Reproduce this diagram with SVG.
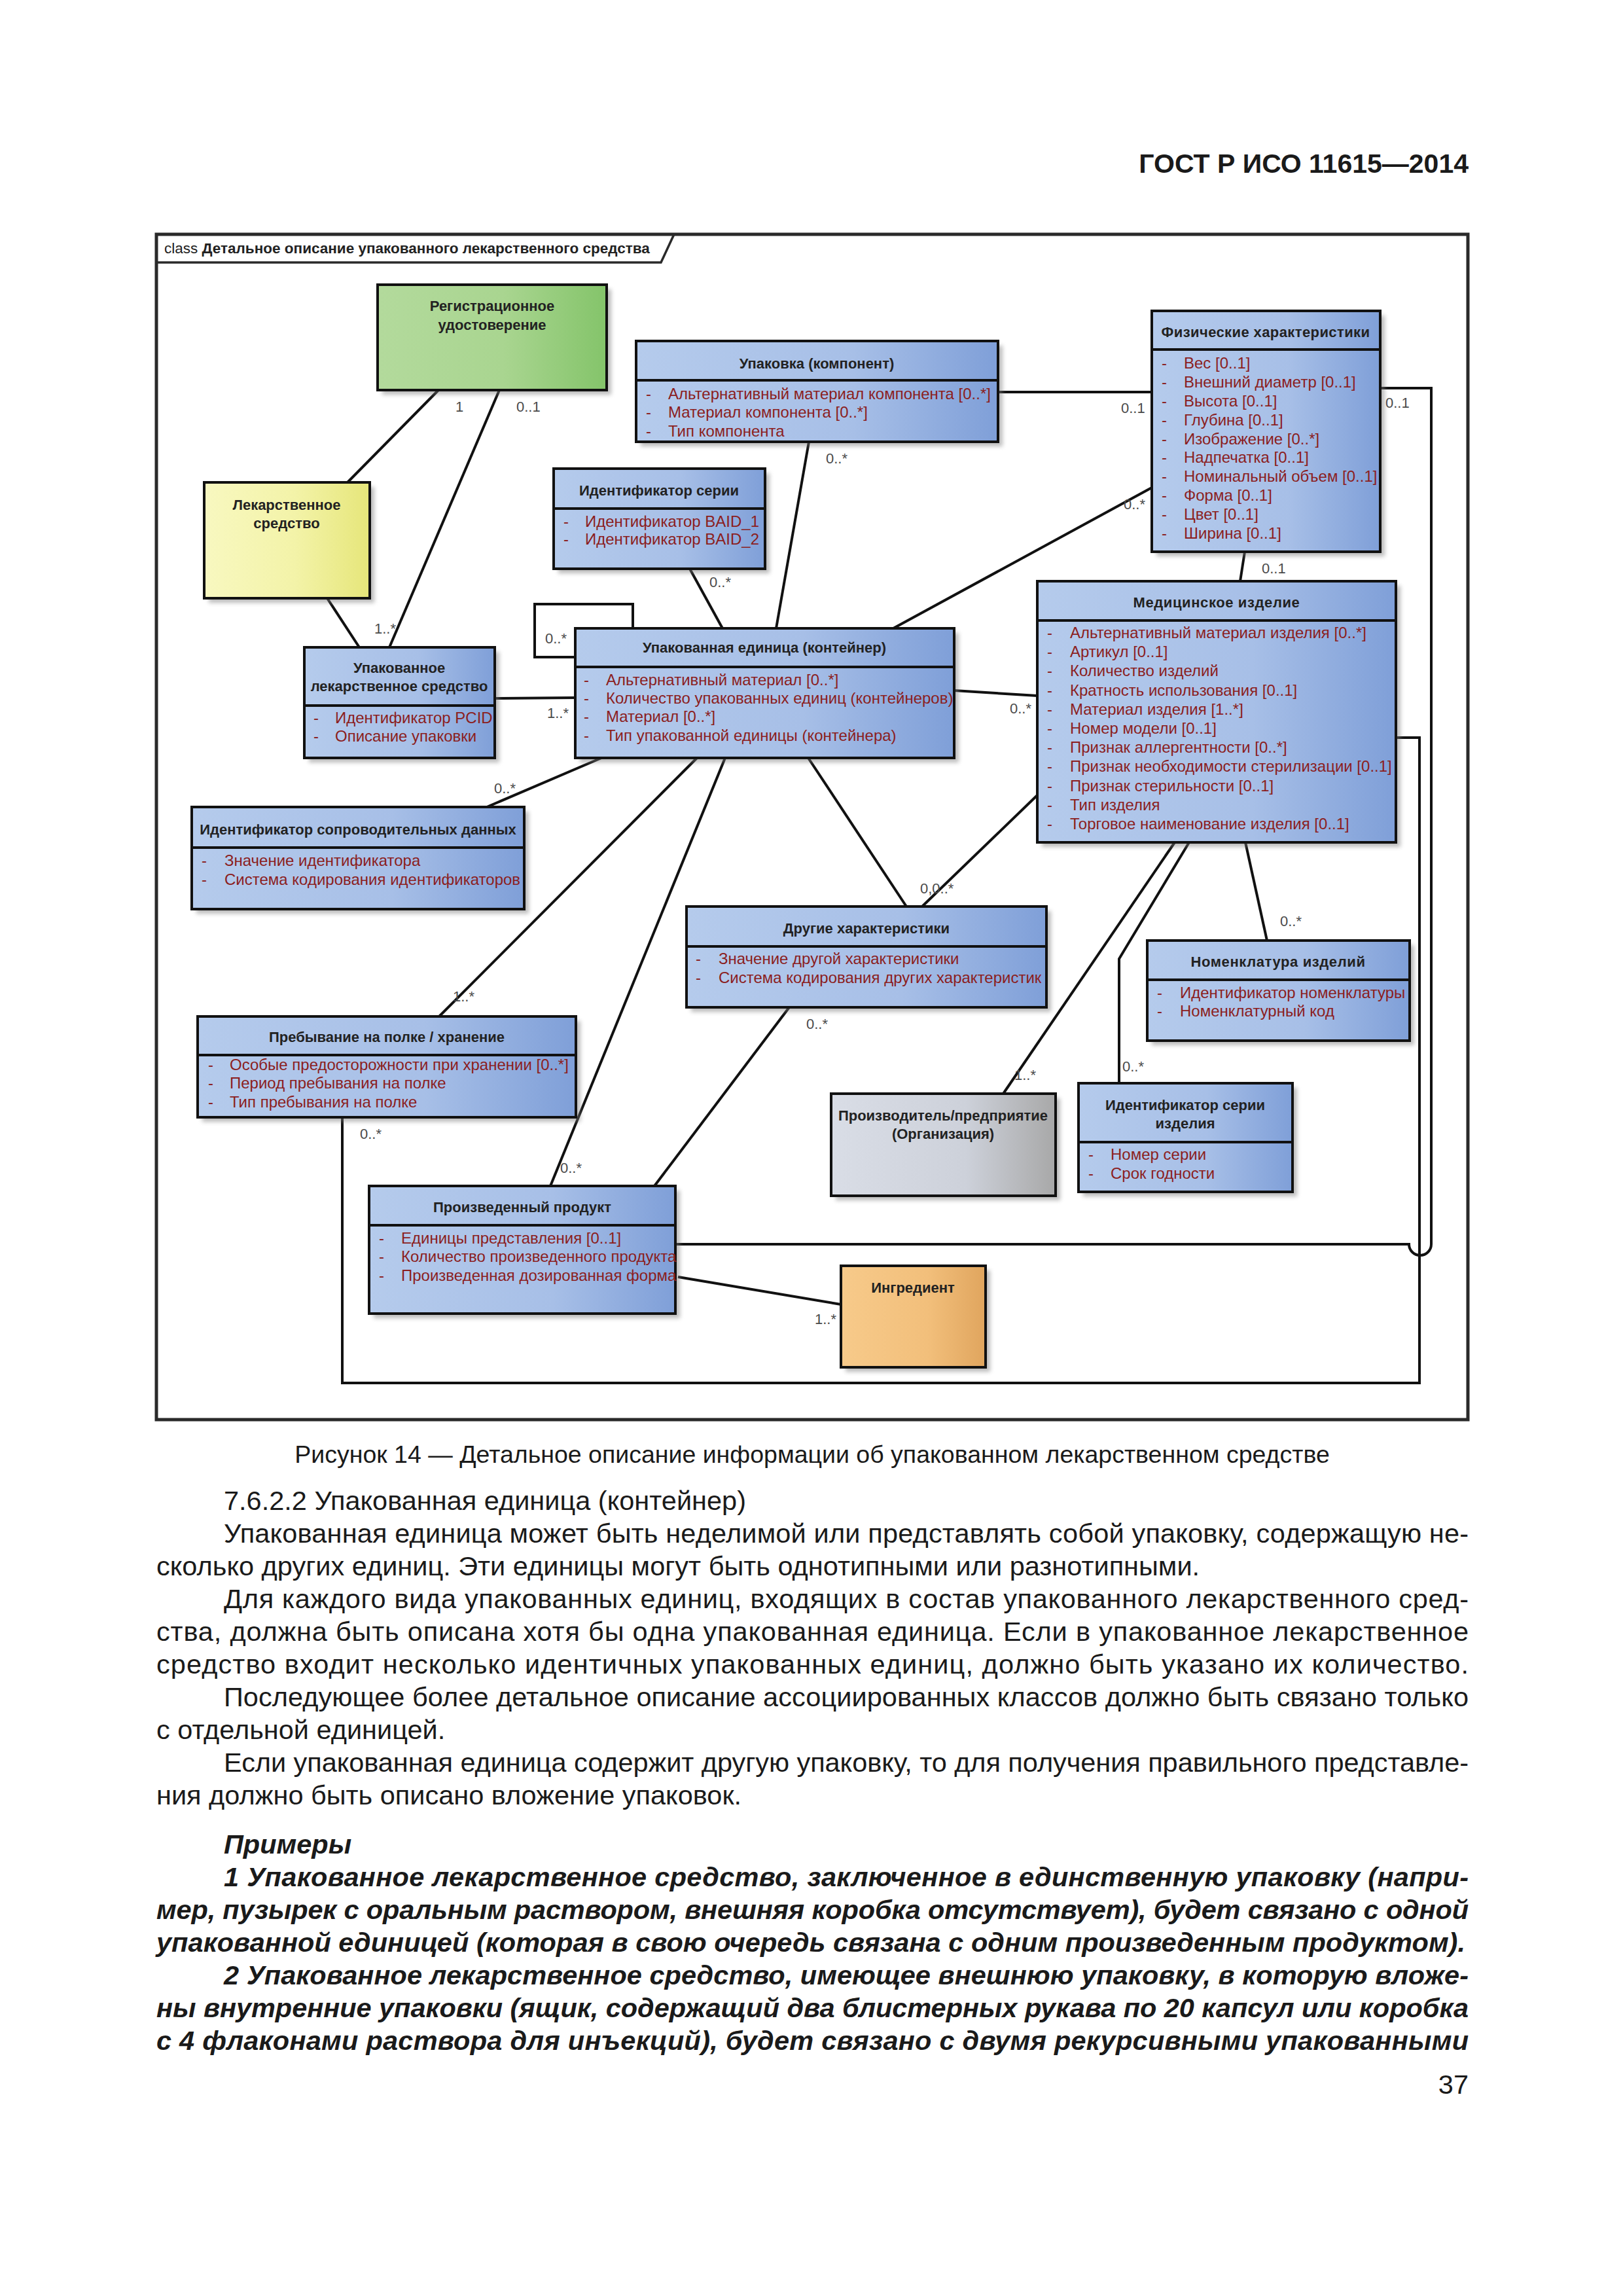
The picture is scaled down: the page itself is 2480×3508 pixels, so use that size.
<svg xmlns="http://www.w3.org/2000/svg" width="2480" height="3508" viewBox="0 0 2480 3508">
<defs>
<linearGradient id="gBlue" x1="0" y1="0" x2="1" y2="0">
<stop offset="0" stop-color="#b5cbec"/><stop offset="0.6" stop-color="#a7bfe7"/><stop offset="1" stop-color="#7f9fd8"/>
</linearGradient>
<linearGradient id="gGreen" x1="0" y1="0" x2="1" y2="0">
<stop offset="0" stop-color="#b3da9c"/><stop offset="0.55" stop-color="#a9d590"/><stop offset="1" stop-color="#84c46a"/>
</linearGradient>
<linearGradient id="gYellow" x1="0" y1="0" x2="1" y2="0">
<stop offset="0" stop-color="#f8f8c0"/><stop offset="0.55" stop-color="#f3f3a8"/><stop offset="1" stop-color="#e6e67a"/>
</linearGradient>
<linearGradient id="gGray" x1="0" y1="0" x2="1" y2="0">
<stop offset="0" stop-color="#d9dde6"/><stop offset="0.6" stop-color="#cdd1da"/><stop offset="1" stop-color="#a8a8a8"/>
</linearGradient>
<linearGradient id="gOrange" x1="0" y1="0" x2="1" y2="0">
<stop offset="0" stop-color="#f7ca8a"/><stop offset="0.6" stop-color="#f2bf7b"/><stop offset="1" stop-color="#e0a55e"/>
</linearGradient>
<filter id="blur" x="-10%" y="-10%" width="120%" height="120%"><feGaussianBlur stdDeviation="3"/></filter>
<style>
.box{stroke:#111;stroke-width:4}
.blue{fill:url(#gBlue)}
.green{fill:url(#gGreen)}
.yellow{fill:url(#gYellow)}
.gray{fill:url(#gGray)}
.orange{fill:url(#gOrange)}
.sh{fill:#7a7a7a;opacity:.5;filter:url(#blur)}
.div{stroke:#111;stroke-width:4}
.t{font-family:"Liberation Sans",Arial,sans-serif;font-size:22px;font-weight:bold;fill:#222;text-anchor:middle}
.a{font-family:"Liberation Sans",Arial,sans-serif;font-size:24px;fill:#8b1e1e}
.m{font-family:"Liberation Sans",Arial,sans-serif;font-size:22px;fill:#4a4a4a}
.c{fill:none;stroke:#111;stroke-width:4}
.frame{fill:none;stroke:#2a2a2a;stroke-width:5}
.tag{font-family:"Liberation Sans",Arial,sans-serif;font-size:22.5px;font-weight:bold;fill:#222}
.body{font-family:"Liberation Sans",Arial,sans-serif;font-size:41.5px;fill:#1a1a1a}
.bi{font-weight:bold;font-style:italic}
.cap{font-family:"Liberation Sans",Arial,sans-serif;font-size:37.5px;fill:#1a1a1a;text-anchor:middle}
.hdr{font-family:"Liberation Sans",Arial,sans-serif;font-size:41px;font-weight:bold;fill:#1a1a1a;text-anchor:end}
</style>
</defs>
<rect x="0" y="0" width="2480" height="3508" fill="#ffffff"/>

<text class="hdr" x="2244" y="264">ГОСТ Р ИСО 11615—2014</text>

<g id="frame">
<rect class="frame" x="239" y="358" width="2004" height="1811"/>
<path d="M239,401 H1010 L1030,358" fill="none" stroke="#2a2a2a" stroke-width="3.5"/>
<text class="tag" x="251" y="387"><tspan font-weight="normal">class</tspan> Детальное описание упакованного лекарственного средства</text>
</g>

<g id="connectors">
<path class="c" d="M670,596 L531,737"/>
<path class="c" d="M763,596 L595,989"/>
<path class="c" d="M500,914 L549,989"/>
<path class="c" d="M756,1067 L879,1066"/>
<path class="c" d="M967,960 V923 H817 V1004 H879"/>
<path class="c" d="M1054,869 L1104,960"/>
<path class="c" d="M1236,675 L1186,960"/>
<path class="c" d="M1525,599 H1760"/>
<path class="c" d="M1760,745 L1365,960"/>
<path class="c" d="M1902,843 L1895,888"/>
<path class="c" d="M1458,1055 L1585,1063"/>
<path class="c" d="M1032,1901 H2153 A17,17 0 0 0 2187,1901 V593 H2109"/>
<path class="c" d="M2133,1127 H2169 V2113 H523 V1707"/>
<path class="c" d="M919,1158 L744,1233"/>
<path class="c" d="M1065,1158 L671,1553"/>
<path class="c" d="M1108,1158 L841,1812"/>
<path class="c" d="M1235,1158 L1385,1385"/>
<path class="c" d="M1585,1215 L1409,1385"/>
<path class="c" d="M1795,1287 L1533,1671"/>
<path class="c" d="M1817,1287 L1710,1465 V1655"/>
<path class="c" d="M1903,1287 L1936,1437"/>
<path class="c" d="M1206,1539 L1000,1812"/>
<path class="c" d="M1036,1951 L1285,1993"/>
<text class="m" x="696" y="629">1</text>
<text class="m" x="789" y="629">0..1</text>
<text class="m" x="572" y="968">1..*</text>
<text class="m" x="836" y="1097">1..*</text>
<text class="m" x="833" y="983">0..*</text>
<text class="m" x="1084" y="897">0..*</text>
<text class="m" x="1262" y="708">0..*</text>
<text class="m" x="1713" y="631">0..1</text>
<text class="m" x="1717" y="778">0..*</text>
<text class="m" x="2117" y="623">0..1</text>
<text class="m" x="1928" y="876">0..1</text>
<text class="m" x="1543" y="1090">0..*</text>
<text class="m" x="755" y="1212">0..*</text>
<text class="m" x="1406" y="1365">0,0..*</text>
<text class="m" x="1956" y="1415">0..*</text>
<text class="m" x="692" y="1530">1..*</text>
<text class="m" x="1232" y="1572">0..*</text>
<text class="m" x="1550" y="1650">1..*</text>
<text class="m" x="1715" y="1637">0..*</text>
<text class="m" x="550" y="1740">0..*</text>
<text class="m" x="856" y="1792">0..*</text>
<text class="m" x="1245" y="2023">1..*</text>
</g>

<g id="n-reg">
<rect class="sh" x="584" y="442" width="350" height="161"/>
<rect class="box green" x="577" y="435" width="350" height="161"/>
<text class="t" x="752" y="475">Регистрационное</text>
<text class="t" x="752" y="504">удостоверение</text>
</g>

<g id="n-lek">
<rect class="sh" x="319" y="744" width="253" height="177"/>
<rect class="box yellow" x="312" y="737" width="253" height="177"/>
<text class="t" x="438" y="779">Лекарственное</text>
<text class="t" x="438" y="807">средство</text>
</g>

<g id="n-upakovka">
<rect class="sh" x="979" y="528" width="553" height="154"/>
<rect class="box blue" x="972" y="521" width="553" height="154"/>
<line class="div" x1="972" y1="581" x2="1525" y2="581"/>
<text class="t" x="1248" y="563">Упаковка (компонент)</text>
<text class="a" x="987" y="610">-</text><text class="a" x="1021" y="610">Альтернативный материал компонента [0..*]</text>
<text class="a" x="987" y="638">-</text><text class="a" x="1021" y="638">Материал компонента [0..*]</text>
<text class="a" x="987" y="667">-</text><text class="a" x="1021" y="667">Тип компонента</text>
</g>

<g id="n-ident-serii">
<rect class="sh" x="853" y="723" width="323" height="153"/>
<rect class="box blue" x="846" y="716" width="323" height="153"/>
<line class="div" x1="846" y1="777" x2="1169" y2="777"/>
<text class="t" x="1007" y="757">Идентификатор серии</text>
<text class="a" x="861" y="805">-</text><text class="a" x="894" y="805">Идентификатор BAID_1</text>
<text class="a" x="861" y="832">-</text><text class="a" x="894" y="832">Идентификатор BAID_2</text>
</g>

<g id="n-fiz">
<rect class="sh" x="1767" y="482" width="349" height="368"/>
<rect class="box blue" x="1760" y="475" width="349" height="368"/>
<line class="div" x1="1760" y1="534" x2="2109" y2="534"/>
<text class="t" x="1934" y="515" letter-spacing="0.4">Физические характеристики</text>
<text class="a" x="1775" y="563">-</text><text class="a" x="1809" y="563">Вес [0..1]</text>
<text class="a" x="1775" y="592">-</text><text class="a" x="1809" y="592">Внешний диаметр [0..1]</text>
<text class="a" x="1775" y="621">-</text><text class="a" x="1809" y="621">Высота [0..1]</text>
<text class="a" x="1775" y="650">-</text><text class="a" x="1809" y="650">Глубина [0..1]</text>
<text class="a" x="1775" y="679">-</text><text class="a" x="1809" y="679">Изображение [0..*]</text>
<text class="a" x="1775" y="707">-</text><text class="a" x="1809" y="707">Надпечатка [0..1]</text>
<text class="a" x="1775" y="736">-</text><text class="a" x="1809" y="736">Номинальный объем [0..1]</text>
<text class="a" x="1775" y="765">-</text><text class="a" x="1809" y="765">Форма [0..1]</text>
<text class="a" x="1775" y="794">-</text><text class="a" x="1809" y="794">Цвет [0..1]</text>
<text class="a" x="1775" y="823">-</text><text class="a" x="1809" y="823">Ширина [0..1]</text>
</g>

<g id="n-upls">
<rect class="sh" x="472" y="996" width="291" height="169"/>
<rect class="box blue" x="465" y="989" width="291" height="169"/>
<line class="div" x1="465" y1="1078" x2="756" y2="1078"/>
<text class="t" x="610" y="1028">Упакованное</text>
<text class="t" x="610" y="1056">лекарственное средство</text>
<text class="a" x="479" y="1105">-</text><text class="a" x="512" y="1105">Идентификатор PCID</text>
<text class="a" x="479" y="1133">-</text><text class="a" x="512" y="1133">Описание упаковки</text>
</g>

<g id="n-upak-ed">
<rect class="sh" x="886" y="967" width="579" height="198"/>
<rect class="box blue" x="879" y="960" width="579" height="198"/>
<line class="div" x1="879" y1="1019" x2="1458" y2="1019"/>
<text class="t" x="1168" y="997">Упакованная единица (контейнер)</text>
<text class="a" x="892" y="1047">-</text><text class="a" x="926" y="1047">Альтернативный материал [0..*]</text>
<text class="a" x="892" y="1075">-</text><text class="a" x="926" y="1075">Количество упакованных единиц (контейнеров)</text>
<text class="a" x="892" y="1103">-</text><text class="a" x="926" y="1103">Материал [0..*]</text>
<text class="a" x="892" y="1132">-</text><text class="a" x="926" y="1132">Тип упакованной единицы (контейнера)</text>
</g>

<g id="n-med">
<rect class="sh" x="1592" y="895" width="548" height="399"/>
<rect class="box blue" x="1585" y="888" width="548" height="399"/>
<line class="div" x1="1585" y1="948" x2="2133" y2="948"/>
<text class="t" x="1859" y="928" letter-spacing="0.6">Медицинское изделие</text>
<text class="a" x="1600" y="975">-</text><text class="a" x="1635" y="975">Альтернативный материал изделия [0..*]</text>
<text class="a" x="1600" y="1004">-</text><text class="a" x="1635" y="1004">Артикул [0..1]</text>
<text class="a" x="1600" y="1033">-</text><text class="a" x="1635" y="1033">Количество изделий</text>
<text class="a" x="1600" y="1063">-</text><text class="a" x="1635" y="1063">Кратность использования [0..1]</text>
<text class="a" x="1600" y="1092">-</text><text class="a" x="1635" y="1092">Материал изделия [1..*]</text>
<text class="a" x="1600" y="1121">-</text><text class="a" x="1635" y="1121">Номер модели [0..1]</text>
<text class="a" x="1600" y="1150">-</text><text class="a" x="1635" y="1150">Признак аллергентности [0..*]</text>
<text class="a" x="1600" y="1179">-</text><text class="a" x="1635" y="1179">Признак необходимости стерилизации [0..1]</text>
<text class="a" x="1600" y="1209">-</text><text class="a" x="1635" y="1209">Признак стерильности [0..1]</text>
<text class="a" x="1600" y="1238">-</text><text class="a" x="1635" y="1238">Тип изделия</text>
<text class="a" x="1600" y="1267">-</text><text class="a" x="1635" y="1267">Торговое наименование изделия [0..1]</text>
</g>

<g id="n-ident-sopr">
<rect class="sh" x="300" y="1240" width="508" height="156"/>
<rect class="box blue" x="293" y="1233" width="508" height="156"/>
<line class="div" x1="293" y1="1295" x2="801" y2="1295"/>
<text class="t" x="547" y="1275">Идентификатор сопроводительных данных</text>
<text class="a" x="308" y="1323">-</text><text class="a" x="343" y="1323">Значение идентификатора</text>
<text class="a" x="308" y="1352">-</text><text class="a" x="343" y="1352">Система кодирования идентификаторов</text>
</g>

<g id="n-drugie">
<rect class="sh" x="1056" y="1392" width="550" height="154"/>
<rect class="box blue" x="1049" y="1385" width="550" height="154"/>
<line class="div" x1="1049" y1="1446" x2="1599" y2="1446"/>
<text class="t" x="1324" y="1426">Другие характеристики</text>
<text class="a" x="1063" y="1473">-</text><text class="a" x="1098" y="1473">Значение другой характеристики</text>
<text class="a" x="1063" y="1502">-</text><text class="a" x="1098" y="1502">Система кодирования других характеристик</text>
</g>

<g id="n-nomenkl">
<rect class="sh" x="1760" y="1444" width="401" height="153"/>
<rect class="box blue" x="1753" y="1437" width="401" height="153"/>
<line class="div" x1="1753" y1="1497" x2="2154" y2="1497"/>
<text class="t" x="1953" y="1477" letter-spacing="0.6">Номенклатура изделий</text>
<text class="a" x="1768" y="1525">-</text><text class="a" x="1803" y="1525">Идентификатор номенклатуры</text>
<text class="a" x="1768" y="1553">-</text><text class="a" x="1803" y="1553">Номенклатурный код</text>
</g>

<g id="n-prebyv">
<rect class="sh" x="309" y="1560" width="578" height="154"/>
<rect class="box blue" x="302" y="1553" width="578" height="154"/>
<line class="div" x1="302" y1="1612" x2="880" y2="1612"/>
<text class="t" x="591" y="1592">Пребывание на полке / хранение</text>
<text class="a" x="318" y="1635">-</text><text class="a" x="351" y="1635">Особые предосторожности при хранении [0..*]</text>
<text class="a" x="318" y="1663">-</text><text class="a" x="351" y="1663">Период пребывания на полке</text>
<text class="a" x="318" y="1692">-</text><text class="a" x="351" y="1692">Тип пребывания на полке</text>
</g>

<g id="n-proizvoditel">
<rect class="sh" x="1277" y="1678" width="343" height="156"/>
<rect class="box gray" x="1270" y="1671" width="343" height="156"/>
<text class="t" x="1441" y="1712">Производитель/предприятие</text>
<text class="t" x="1441" y="1740">(Организация)</text>
</g>

<g id="n-ident-serii-izd">
<rect class="sh" x="1655" y="1662" width="327" height="166"/>
<rect class="box blue" x="1648" y="1655" width="327" height="166"/>
<line class="div" x1="1648" y1="1745" x2="1975" y2="1745"/>
<text class="t" x="1811" y="1696">Идентификатор серии</text>
<text class="t" x="1811" y="1724">изделия</text>
<text class="a" x="1663" y="1772">-</text><text class="a" x="1697" y="1772">Номер серии</text>
<text class="a" x="1663" y="1801">-</text><text class="a" x="1697" y="1801">Срок годности</text>
</g>

<g id="n-proizv-produkt">
<rect class="sh" x="571" y="1819" width="468" height="195"/>
<rect class="box blue" x="564" y="1812" width="468" height="195"/>
<line class="div" x1="564" y1="1872" x2="1032" y2="1872"/>
<text class="t" x="798" y="1852">Произведенный продукт</text>
<text class="a" x="579" y="1900">-</text><text class="a" x="613" y="1900">Единицы представления [0..1]</text>
<text class="a" x="579" y="1928">-</text><text class="a" x="613" y="1928">Количество произведенного продукта</text>
<text class="a" x="579" y="1957">-</text><text class="a" x="613" y="1957">Произведенная дозированная форма</text>
</g>

<g id="n-ingredient">
<rect class="sh" x="1292" y="1941" width="221" height="155"/>
<rect class="box orange" x="1285" y="1934" width="221" height="155"/>
<text class="t" x="1395" y="1975">Ингредиент</text>
</g>

<g id="page-text">
<text class="cap" x="1241" y="2235">Рисунок 14 — Детальное описание информации об упакованном лекарственном средстве</text>
<text class="body" x="342" y="2307">7.6.2.2 Упакованная единица (контейнер)</text>
<text class="body" x="342" y="2357" textLength="1902" lengthAdjust="spacing">Упакованная единица может быть неделимой или представлять собой упаковку, содержащую не-</text>
<text class="body" x="239" y="2407">сколько других единиц. Эти единицы могут быть однотипными или разнотипными.</text>
<text class="body" x="342" y="2457" textLength="1902" lengthAdjust="spacing">Для каждого вида упакованных единиц, входящих в состав упакованного лекарственного сред-</text>
<text class="body" x="239" y="2507" textLength="2005" lengthAdjust="spacing">ства, должна быть описана хотя бы одна упакованная единица. Если в упакованное лекарственное</text>
<text class="body" x="239" y="2557" textLength="2005" lengthAdjust="spacing">средство входит несколько идентичных упакованных единиц, должно быть указано их количество.</text>
<text class="body" x="342" y="2607" textLength="1902" lengthAdjust="spacing">Последующее более детальное описание ассоциированных классов должно быть связано только</text>
<text class="body" x="239" y="2657">с отдельной единицей.</text>
<text class="body" x="342" y="2707" textLength="1902" lengthAdjust="spacing">Если упакованная единица содержит другую упаковку, то для получения правильного представле-</text>
<text class="body" x="239" y="2757">ния должно быть описано вложение упаковок.</text>
<text class="body bi" x="342" y="2832">Примеры</text>
<text class="body bi" x="342" y="2882" textLength="1902" lengthAdjust="spacing">1 Упакованное лекарственное средство, заключенное в единственную упаковку (напри-</text>
<text class="body bi" x="239" y="2932" textLength="2005" lengthAdjust="spacing">мер, пузырек с оральным раствором, внешняя коробка отсутствует), будет связано с одной</text>
<text class="body bi" x="239" y="2982" textLength="2000" lengthAdjust="spacing">упакованной единицей (которая в свою очередь связана с одним произведенным продуктом).</text>
<text class="body bi" x="342" y="3032" textLength="1902" lengthAdjust="spacing">2 Упакованное лекарственное средство, имеющее внешнюю упаковку, в которую вложе-</text>
<text class="body bi" x="239" y="3082" textLength="2005" lengthAdjust="spacing">ны внутренние упаковки (ящик, содержащий два блистерных рукава по 20 капсул или коробка</text>
<text class="body bi" x="239" y="3132" textLength="2005" lengthAdjust="spacing">с 4 флаконами раствора для инъекций), будет связано с двумя рекурсивными упакованными</text>
<text class="body" x="2244" y="3199" text-anchor="end">37</text>
</g>
</svg>
